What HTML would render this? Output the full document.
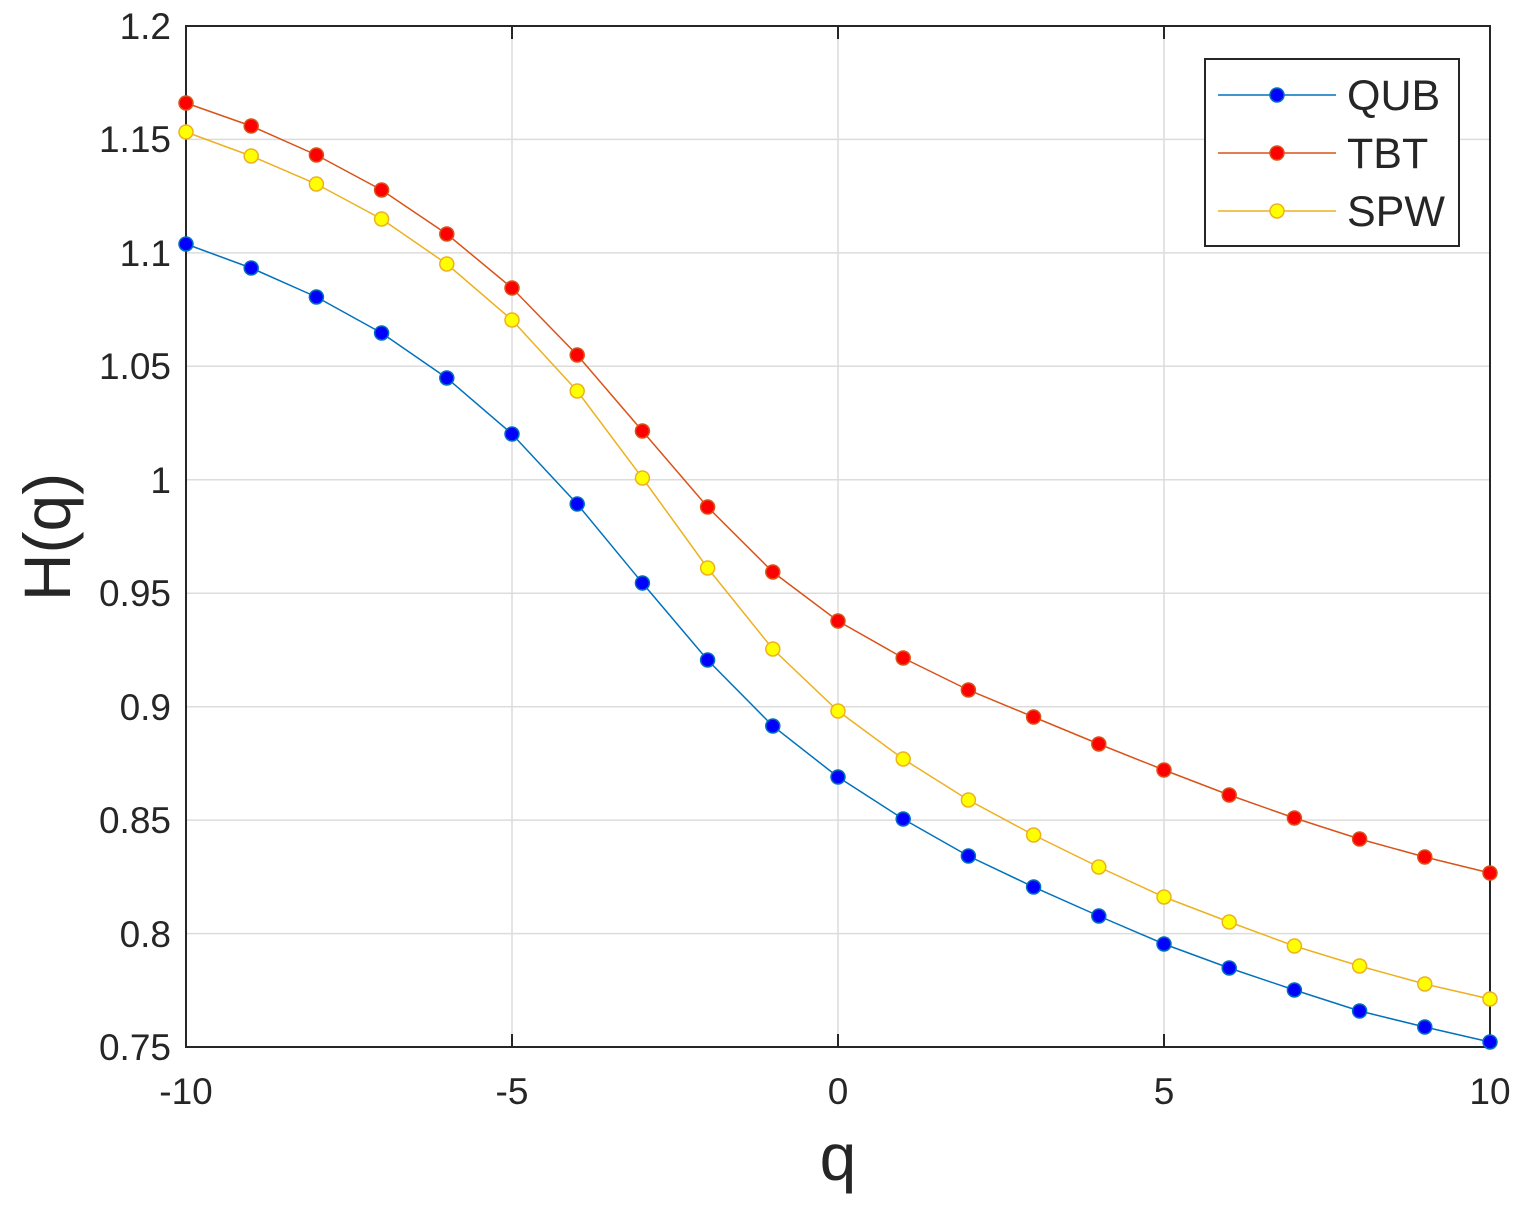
<!DOCTYPE html>
<html><head><meta charset="utf-8"><style>body{margin:0;background:#fff}svg{display:block}text{font-family:"Liberation Sans",Arial,sans-serif;fill:#262626}</style></head>
<body>
<svg width="1528" height="1220" xmlns="http://www.w3.org/2000/svg">
<g stroke="#dcdcdc" stroke-width="1.5">
<line x1="512" y1="26" x2="512" y2="1047"/><line x1="838" y1="26" x2="838" y2="1047"/><line x1="1164" y1="26" x2="1164" y2="1047"/>
<line x1="186" y1="139.4" x2="1490" y2="139.4"/><line x1="186" y1="252.9" x2="1490" y2="252.9"/><line x1="186" y1="366.3" x2="1490" y2="366.3"/><line x1="186" y1="479.8" x2="1490" y2="479.8"/><line x1="186" y1="593.2" x2="1490" y2="593.2"/><line x1="186" y1="706.7" x2="1490" y2="706.7"/><line x1="186" y1="820.1" x2="1490" y2="820.1"/><line x1="186" y1="933.6" x2="1490" y2="933.6"/>
</g>
<rect x="186" y="26" width="1304" height="1021" fill="none" stroke="#262626" stroke-width="2"/>
<g stroke="#262626" stroke-width="2">
<line x1="512" y1="1047" x2="512" y2="1034"/><line x1="838" y1="1047" x2="838" y2="1034"/><line x1="1164" y1="1047" x2="1164" y2="1034"/>
<line x1="512" y1="26" x2="512" y2="39"/><line x1="838" y1="26" x2="838" y2="39"/><line x1="1164" y1="26" x2="1164" y2="39"/>
</g>
<g font-size="37" text-anchor="end">
<text x="171" y="39">1.2</text><text x="171" y="152">1.15</text><text x="171" y="266">1.1</text><text x="171" y="379">1.05</text><text x="171" y="493">1</text><text x="171" y="606">0.95</text><text x="171" y="720">0.9</text><text x="171" y="833">0.85</text><text x="171" y="947">0.8</text><text x="171" y="1060">0.75</text>
</g>
<g font-size="37" text-anchor="middle">
<text x="186" y="1104">-10</text><text x="512" y="1104">-5</text><text x="838" y="1104">0</text><text x="1164" y="1104">5</text><text x="1490" y="1104">10</text>
</g>
<text x="838" y="1180" font-size="66" text-anchor="middle">q</text>
<text transform="translate(70,537) rotate(-90)" font-size="66" text-anchor="middle">H(q)</text>
<g id="plots"></g>
<rect x="1205" y="59" width="254" height="187" fill="#fff" stroke="#262626" stroke-width="2"/>
<line x1="1218" y1="95" x2="1336" y2="95" stroke="#0072BD" stroke-width="1.5"/><circle cx="1277" cy="95" r="7" fill="#0000ff" stroke="#0072BD" stroke-width="1.5"/>
<line x1="1218" y1="153" x2="1336" y2="153" stroke="#D95319" stroke-width="1.5"/><circle cx="1277" cy="153" r="7" fill="#ff0000" stroke="#D95319" stroke-width="1.5"/>
<line x1="1218" y1="211" x2="1336" y2="211" stroke="#EDB120" stroke-width="1.5"/><circle cx="1277" cy="211" r="7" fill="#ffff00" stroke="#EDB120" stroke-width="1.5"/>
<g font-size="43"><text x="1347" y="110">QUB</text><text x="1347" y="168">TBT</text><text x="1347" y="226">SPW</text></g>
</svg>
<script>
const S=[
[[244,268,297,333,378,434,504,583,660,726,777,819,856,887,916,944,968,990,1011,1027,1042],"#0072BD","#0000ff"],
[[103,126,155,190,234,288,355,431,507,572,621,658,690,717,744,770,795,818,839,857,873],"#D95319","#ff0000"],
[[132,156,184,219,264,320,391,478,568,649,711,759,800,835,867,897,922,946,966,984,999],"#EDB120","#ffff00"]];
let h="";
for(const [ys,lc,fc] of S){
 const pts=ys.map((y,i)=>[186+i*65.2,y]);
 h+=`<polyline points="${pts.map(p=>p.join(',')).join(' ')}" fill="none" stroke="${lc}" stroke-width="1.5"/>`;
 for(const p of pts)h+=`<circle cx="${p[0]}" cy="${p[1]}" r="7" fill="${fc}" stroke="${lc}" stroke-width="1.5"/>`;
}
document.getElementById("plots").innerHTML=h;
</script>
</body></html>
